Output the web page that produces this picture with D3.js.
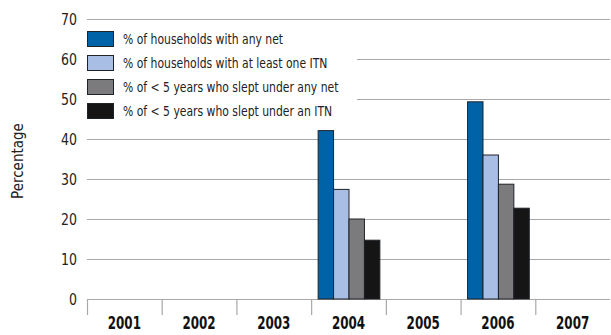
<!DOCTYPE html>
<html>
<head>
<meta charset="utf-8">
<script src="https://cdn.jsdelivr.net/npm/d3@7"></script>
<style>
  body { margin: 0; background: #fff; }
  text { font-family: "Liberation Sans Narrow", "Arial Narrow", "DejaVu Sans Condensed", sans-serif; }
</style>
</head>
<body>
<svg id="chart" width="611" height="335"></svg>
<script>
// Chart data
var years = ["2001", "2002", "2003", "2004", "2005", "2006", "2007"];
var seriesNames = [
  "% of households with any net",
  "% of households with at least one ITN",
  "% of < 5 years who slept under any net",
  "% of < 5 years who slept under an ITN"
];
var seriesColors = ["#0063a8", "#a9bee4", "#7b7b7d", "#151515"];
var anyNet    = [null, null, null, 42.1, null, 49.3, null];
var atLeastITN = [null, null, null, 27.4, null, 36.0, null];
var u5AnyNet  = [null, null, null, 20.0, null, 28.7, null];
var u5ITN     = [null, null, null, 14.7, null, 22.7, null];
var yTicks = [0, 10, 20, 30, 40, 50, 60, 70];

var seriesValues = [anyNet, atLeastITN, u5AnyNet, u5ITN];

var svg = d3.select("svg#chart");
var margin = {top: 19, right: 1, bottom: 36, left: 87},
    width = 611 - margin.left - margin.right,
    height = 299 - margin.top;

var g = svg.append("g")
  .attr("transform", "translate(" + margin.left + "," + margin.top + ")");

var x = d3.scaleBand().domain(years).range([0, width]);
var x1 = d3.scaleBand().domain(d3.range(4)).range([7, x.bandwidth() - 6]);
var y = d3.scaleLinear().domain([0, 70]).range([height, 0]);

// condensed text helper: place at (px,py) and squeeze horizontally
function squeeze(px, py, s) {
  return "translate(" + px + "," + py + ") scale(" + s + ",1)";
}

// gridlines
g.selectAll("line.grid")
  .data(yTicks)
  .enter().append("line")
    .attr("class", "grid")
    .attr("x1", 0).attr("x2", width)
    .attr("y1", d => y(d) + 0.5).attr("y2", d => y(d) + 0.5)
    .attr("stroke", "#a8a8a8")
    .attr("stroke-width", 1.2);

// y tick labels
g.selectAll("text.ytick")
  .data(yTicks)
  .enter().append("text")
    .attr("class", "ytick")
    .attr("transform", d => squeeze(-10, y(d), 0.87))
    .attr("dy", "0.35em")
    .attr("text-anchor", "end")
    .attr("font-size", "16px")
    .attr("fill", "#222")
    .text(d => d);

// x ticks
g.selectAll("line.xtick")
  .data(years)
  .enter().append("line")
    .attr("class", "xtick")
    .attr("x1", d => x(d) + 0.5).attr("x2", d => x(d) + 0.5)
    .attr("y1", height).attr("y2", height + 16)
    .attr("stroke", "#a8a8a8")
    .attr("stroke-width", 1.2);

g.selectAll("text.xlab")
  .data(years)
  .enter().append("text")
    .attr("class", "xlab")
    .attr("transform", d => squeeze(x(d) + x.bandwidth() / 2, height + 30, 0.78))
    .attr("text-anchor", "middle")
    .attr("font-size", "17px")
    .attr("font-weight", "bold")
    .attr("fill", "#111")
    .text(d => d);

// bars
var groups = g.selectAll("g.year")
  .data(years)
  .enter().append("g")
    .attr("class", "year")
    .attr("transform", d => "translate(" + x(d) + ",0)");

groups.selectAll("rect")
  .data((d, i) => seriesValues.map((s, k) => ({k: k, v: s[i]})).filter(e => e.v != null))
  .enter().append("rect")
    .attr("x", d => x1(d.k))
    .attr("y", d => y(d.v))
    .attr("width", x1.bandwidth())
    .attr("height", d => height - y(d.v))
    .attr("fill", d => seriesColors[d.k])
    .attr("stroke", "#1e2328")
    .attr("stroke-width", 1);

// legend
var legend = g.append("g");
legend.append("rect")
  .attr("x", 0).attr("y", 5)
  .attr("width", 270).attr("height", 90)
  .attr("fill", "#fff");
var items = legend.selectAll("g.item")
  .data(seriesNames)
  .enter().append("g")
    .attr("class", "item")
    .attr("transform", (d, i) => "translate(0," + (12 + i * 24) + ")");
items.append("rect")
  .attr("x", 0.5).attr("y", 0.5)
  .attr("width", 26).attr("height", 15)
  .attr("fill", (d, i) => seriesColors[i])
  .attr("stroke", "#1e2328");
items.append("text")
  .attr("transform", squeeze(36, 8, 0.83))
  .attr("dy", "0.35em")
  .attr("font-size", "14.5px")
  .attr("fill", "#222")
  .text(d => d);

// y axis title
svg.append("text")
  .attr("transform", "translate(18,161) rotate(-90)")
  .attr("text-anchor", "middle")
  .attr("dy", "0.35em")
  .attr("font-size", "15px")
  .attr("fill", "#222")
  .text("Percentage");
</script>
</body>
</html>
